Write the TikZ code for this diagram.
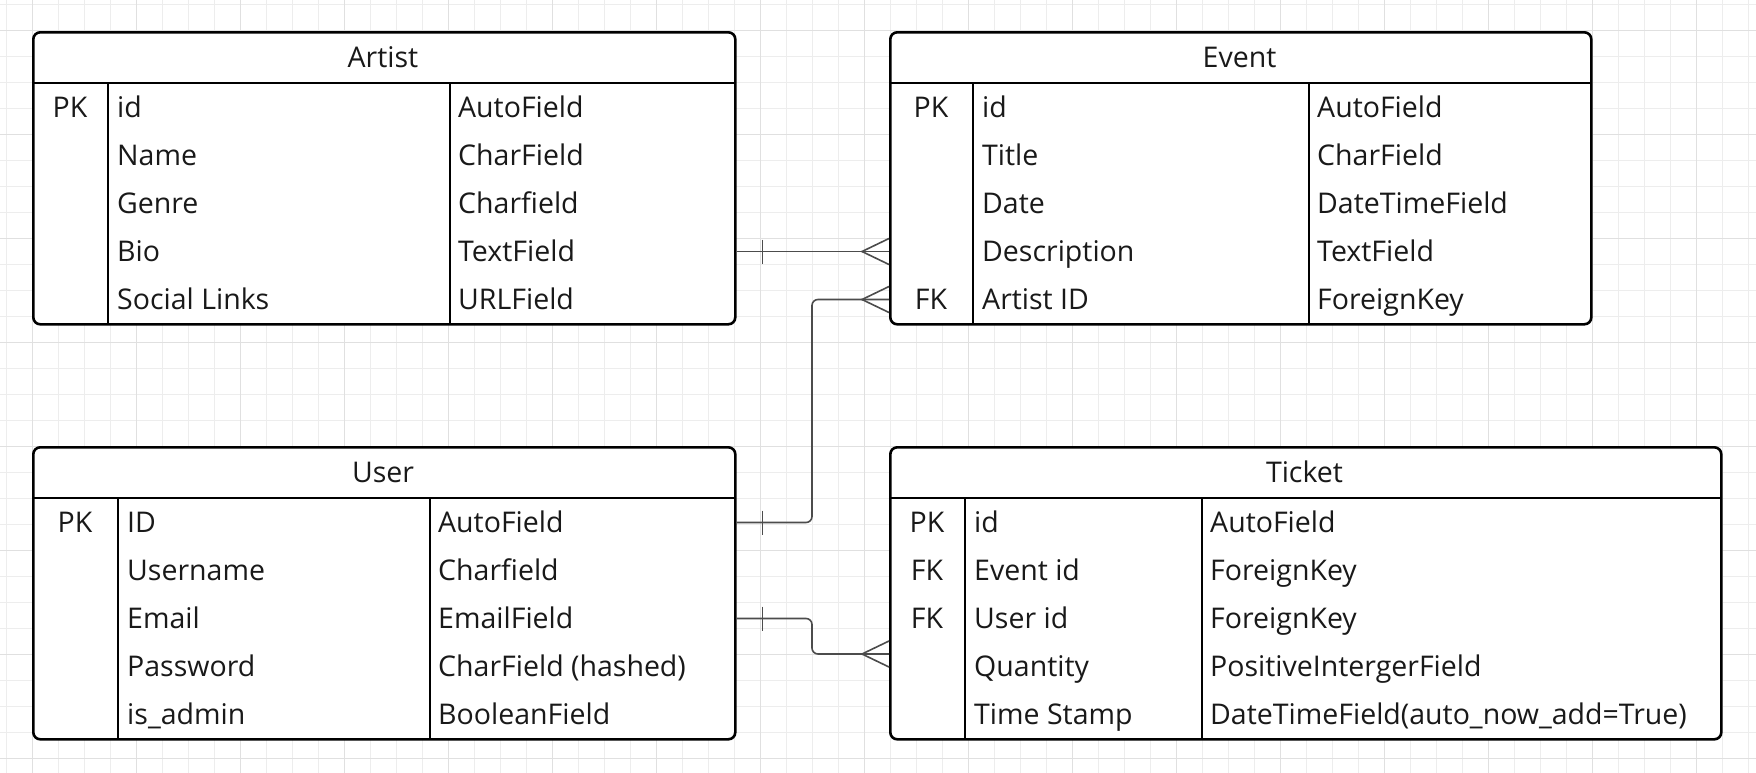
\documentclass[tikz,border=0pt]{standalone}
\usepackage{fontspec}
\setmainfont{Open Sans}

\begin{document}
\begin{tikzpicture}[x=1pt,y=-1pt,
  tbl/.style={draw=black,line width=2.6pt,fill=white,rounded corners=7pt,
    anchor=north west,inner sep=0pt},
  div/.style={draw=black,line width=2.6pt},
  cell/.style={anchor=base west,inner sep=0pt,text=black!90,font=\fontsize{28.5}{32}\selectfont},
  key/.style={anchor=base,inner sep=0pt,text=black!90,font=\fontsize{28.5}{32}\selectfont},
  rel/.style={draw=black!70,line width=1.6pt},
  gridminor/.style={draw=black!7,line width=1pt},
  gridmajor/.style={draw=black!12,line width=1pt}]

% background and grid
\fill[white] (0,0) rectangle (1756,772);
\useasboundingbox (0,0) rectangle (1756,772);
\begin{scope}
\clip (0,0) rectangle (1756,772);
\begin{scope}[shift={(32,30)}]
\draw[gridminor] (-52,-52) grid[step=26pt] (1780,790);
\draw[gridmajor] (-104,-104) grid[step=104pt] (1780,790);
\end{scope}
\end{scope}

% Artist
\node[tbl,minimum width=702pt,minimum height=292pt] (artist) at (32,31) {};
\draw[div] (32,83) -- (734,83);
\draw[div] (108,83) -- (108,323);
\draw[div] (450,83) -- (450,323);
\node[key] (ahead) at (383,67.5) {Artist};
\node[key] (apk) at (70,117.5) {PK};
\node[cell] (aid) at (117,117.5) {id};
\node[cell] (aname) at (117,165.5) {Name};
\node[cell] (agenre) at (117,213.5) {Genre};
\node[cell] (abio) at (117,261.5) {Bio};
\node[cell] (alinks) at (117,309.5) {Social Links};
\node[cell] (aidt) at (458,117.5) {AutoField};
\node[cell] (anamet) at (458,165.5) {CharField};
\node[cell] (agenret) at (458,213.5) {Charfield};
\node[cell] (abiot) at (458,261.5) {TextField};
\node[cell] (alinkst) at (458,309.5) {URLField};

% Event
\node[tbl,minimum width=701pt,minimum height=292pt] (event) at (889,31) {};
\draw[div] (889,83) -- (1590,83);
\draw[div] (973,83) -- (973,323);
\draw[div] (1309,83) -- (1309,323);
\node[key] (ehead) at (1239.5,67.5) {Event};
\node[key] (epk) at (931,117.5) {PK};
\node[key] (efk) at (931,309.5) {FK};
\node[cell] (eid) at (982,117.5) {id};
\node[cell] (etitle) at (982,165.5) {Title};
\node[cell] (edate) at (982,213.5) {Date};
\node[cell] (edesc) at (982,261.5) {Description};
\node[cell] (eart) at (982,309.5) {Artist ID};
\node[cell] (eidt) at (1317,117.5) {AutoField};
\node[cell] (etitlet) at (1317,165.5) {CharField};
\node[cell] (edatet) at (1317,213.5) {DateTimeField};
\node[cell] (edesct) at (1317,261.5) {TextField};
\node[cell] (eartt) at (1317,309.5) {ForeignKey};

% User
\node[tbl,minimum width=702pt,minimum height=292pt] (user) at (32,446) {};
\draw[div] (32,498) -- (734,498);
\draw[div] (118,498) -- (118,738);
\draw[div] (430,498) -- (430,738);
\node[key] (uhead) at (383,482.5) {User};
\node[key] (upk) at (75,532.5) {PK};
\node[cell] (uid) at (127,532.5) {ID};
\node[cell] (uname) at (127,580.5) {Username};
\node[cell] (umail) at (127,628.5) {Email};
\node[cell] (upass) at (127,676.5) {Password};
\node[cell] (uadmin) at (127,724.5) {is\_admin};
\node[cell] (uidt) at (438,532.5) {AutoField};
\node[cell] (unamet) at (438,580.5) {Charfield};
\node[cell] (umailt) at (438,628.5) {EmailField};
\node[cell] (upasst) at (438,676.5) {CharField (hashed)};
\node[cell] (uadmint) at (438,724.5) {BooleanField};

% Ticket
\node[tbl,minimum width=831pt,minimum height=292pt] (ticket) at (889,446) {};
\draw[div] (889,498) -- (1720,498);
\draw[div] (965,498) -- (965,738);
\draw[div] (1202,498) -- (1202,738);
\node[key] (thead) at (1304.5,482.5) {Ticket};
\node[key] (tpk) at (927,532.5) {PK};
\node[key] (tfk1) at (927,580.5) {FK};
\node[key] (tfk2) at (927,628.5) {FK};
\node[cell] (tid) at (974,532.5) {id};
\node[cell] (tevent) at (974,580.5) {Event id};
\node[cell] (tuser) at (974,628.5) {User id};
\node[cell] (tqty) at (974,676.5) {Quantity};
\node[cell] (tstamp) at (974,724.5) {Time Stamp};
\node[cell] (tidt) at (1210,532.5) {AutoField};
\node[cell] (teventt) at (1210,580.5) {ForeignKey};
\node[cell] (tusert) at (1210,628.5) {ForeignKey};
\node[cell] (tqtyt) at (1210,676.5) {PositiveIntergerField};
\node[cell] (tstampt) at (1210,724.5) {DateTimeField(auto\_now\_add=True)};

% relations
\coordinate (bend) at (812,0);
\coordinate (a1) at ([yshift=10pt]artist.east |- abio.base);
\coordinate (e1) at ([yshift=10pt]event.west |- edesc.base);
\coordinate (u1) at ([yshift=10pt]user.east |- uid.base);
\coordinate (e2) at ([yshift=10pt]event.west |- eart.base);
\coordinate (u2) at ([yshift=10pt]user.east |- umail.base);
\coordinate (t1) at ([yshift=22.5pt]ticket.west |- tqty.base);

\draw[rel] (a1) -- (e1);
\draw[rel,rounded corners=6pt] (u1) -| (bend |- e2) -- (e2);
\draw[rel,rounded corners=6pt] (u2) -| (bend |- t1) -- (t1);

% one ends
\draw[rel] ([xshift=26pt,yshift=12pt]a1) -- ([xshift=26pt,yshift=-12pt]a1);
\draw[rel] ([xshift=26pt,yshift=12pt]u1) -- ([xshift=26pt,yshift=-12pt]u1);
\draw[rel] ([xshift=26pt,yshift=12pt]u2) -- ([xshift=26pt,yshift=-12pt]u2);
% many ends
\draw[rel] ([yshift=13pt]e1) -- ([xshift=-27pt]e1) -- ([yshift=-13pt]e1);
\draw[rel] ([yshift=13pt]e2) -- ([xshift=-27pt]e2) -- ([yshift=-13pt]e2);
\draw[rel] ([yshift=13pt]t1) -- ([xshift=-27pt]t1) -- ([yshift=-13pt]t1);
\end{tikzpicture}
\end{document}
